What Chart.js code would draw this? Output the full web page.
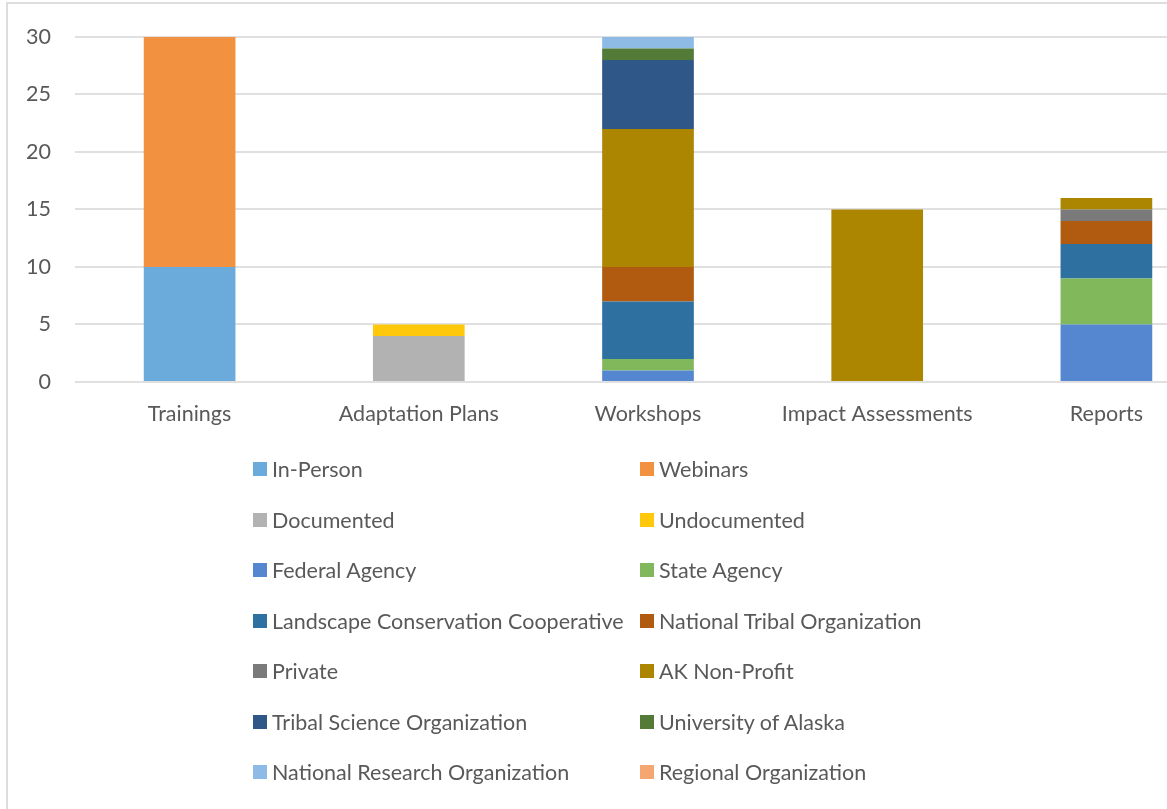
<!DOCTYPE html>
<html>
<head>
<meta charset="utf-8">
<script src="https://cdn.jsdelivr.net/npm/chart.js@4"></script>
<style>
    html, body {
        margin: 0;
        padding: 0;
        width: 1167px;
        height: 809px;
        overflow: hidden;
        background: #ffffff;
        font-family: Lato, "Open Sans", sans-serif;
    }
    #frame {
        position: absolute;
        left: 6px;
        top: 2px;
        width: 1300px;
        height: 900px;
        border: 2px solid #dddddd;
        box-sizing: border-box;
    }
    #chartBox {
        position: absolute;
        left: 9px;
        top: 0px;
        width: 1222px;
        height: 447px;
    }
    #legend {
        position: absolute;
        left: 253px;
        top: 444px;
        display: grid;
        grid-template-columns: 387px 387px;
        grid-auto-rows: 50.5px;
    }
    .item {
        display: flex;
        align-items: center;
        font-size: 21.5px;
        color: #595959;
        white-space: nowrap;
    }
    .swatch {
        width: 14px;
        height: 14px;
        margin-right: 5px;
        flex: none;
    }
</style>
</head>
<body>
<div id="frame"></div>
<div id="chartBox"><canvas id="outreach"></canvas></div>
<div id="legend"></div>
<script>
const categories = ['Trainings', 'Adaptation Plans', 'Workshops', 'Impact Assessments', 'Reports'];

// one array per legend entry, values per category
const inPerson = [10, 0, 0, 0, 0];
const webinars = [20, 0, 0, 0, 0];
const documented = [0, 4, 0, 0, 0];
const undocumented = [0, 1, 0, 0, 0];
const federalAgency = [0, 0, 1, 0, 5];
const stateAgency = [0, 0, 1, 0, 4];
const landscapeCoop = [0, 0, 5, 0, 3];
const nationalTribal = [0, 0, 3, 0, 2];
const privateOrg = [0, 0, 0, 0, 1];
const akNonProfit = [0, 0, 12, 15, 1];
const tribalScience = [0, 0, 6, 0, 0];
const universityAlaska = [0, 0, 1, 0, 0];
const nationalResearch = [0, 0, 1, 0, 0];
const regionalOrg = [0, 0, 0, 0, 0];

const yTicks = [0, 5, 10, 15, 20, 25, 30];

const series = [
    { label: 'In-Person', data: inPerson, color: '#6aabdc' },
    { label: 'Webinars', data: webinars, color: '#f29240' },
    { label: 'Documented', data: documented, color: '#b2b2b2' },
    { label: 'Undocumented', data: undocumented, color: '#ffc80a' },
    { label: 'Federal Agency', data: federalAgency, color: '#5587d0' },
    { label: 'State Agency', data: stateAgency, color: '#82b85c' },
    { label: 'Landscape Conservation Cooperative', data: landscapeCoop, color: '#2e71a1' },
    { label: 'National Tribal Organization', data: nationalTribal, color: '#b05b10' },
    { label: 'Private', data: privateOrg, color: '#7a7a7a' },
    { label: 'AK Non-Profit', data: akNonProfit, color: '#ac8600' },
    { label: 'Tribal Science Organization', data: tribalScience, color: '#2f5889' },
    { label: 'University of Alaska', data: universityAlaska, color: '#537b37' },
    { label: 'National Research Organization', data: nationalResearch, color: '#8ebbe5' },
    { label: 'Regional Organization', data: regionalOrg, color: '#f5a671' }
];

const textColor = '#595959';
const gridColor = '#e0e0e0';
const tickFont = { family: 'Lato', size: 21.5 };

const chartData = {
    labels: categories,
    datasets: series.map(s => ({
        label: s.label,
        data: s.data,
        backgroundColor: s.color,
        borderWidth: 0,
        categoryPercentage: 1,
        barPercentage: 0.4
    }))
};

const chart = new Chart(document.getElementById('outreach').getContext('2d'), {
    type: 'bar',
    data: chartData,
    options: {
        responsive: true,
        maintainAspectRatio: false,
        animation: false,
        layout: {
            padding: { top: 28, right: 10, left: 0, bottom: 0 }
        },
        plugins: {
            legend: { display: false },
            tooltip: { enabled: false }
        },
        scales: {
            x: {
                stacked: true,
                grid: { display: false, drawTicks: false },
                border: { display: false },
                ticks: {
                    color: textColor,
                    font: tickFont,
                    padding: 19,
                    maxRotation: 0,
                    autoSkip: false
                },
                afterFit: scale => { scale.height = 65; }
            },
            y: {
                stacked: true,
                min: 0,
                max: 30,
                afterBuildTicks: scale => {
                    scale.ticks = yTicks.map(v => ({ value: v }));
                },
                grid: {
                    color: gridColor,
                    lineWidth: 2,
                    drawTicks: false
                },
                border: { display: false },
                ticks: {
                    color: textColor,
                    font: tickFont,
                    padding: 24
                },
                afterFit: scale => { scale.width = 66; }
            }
        }
    }
});

// legend laid out in two columns like the original
const legendBox = document.getElementById('legend');
series.forEach(s => {
    const item = document.createElement('div');
    item.className = 'item';
    const swatch = document.createElement('span');
    swatch.className = 'swatch';
    swatch.style.background = s.color;
    item.appendChild(swatch);
    item.appendChild(document.createTextNode(s.label));
    legendBox.appendChild(item);
});
</script>
</body>
</html>
